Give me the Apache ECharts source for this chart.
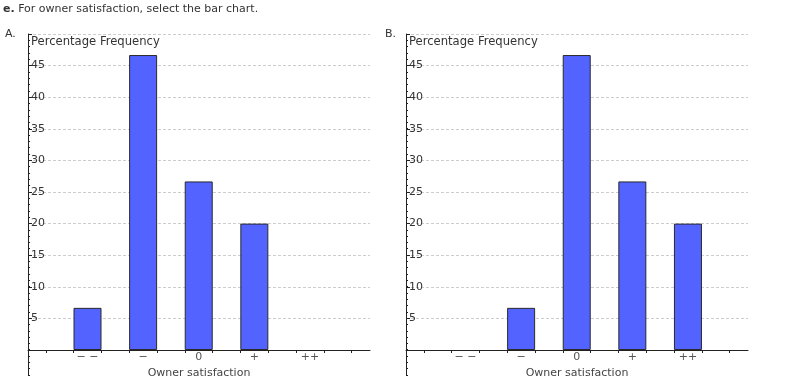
<!DOCTYPE html>
<html><head><meta charset="utf-8">
<script src="https://cdn.jsdelivr.net/npm/echarts@6/dist/echarts.min.js"></script>
<style>html,body{margin:0;padding:0;background:#fff}#c{width:809px;height:389px}</style>
</head><body><div id="c"></div>
<script>
const categories = ['− −', '−', '0', '+', '++'];
const valuesA = [6.67, 46.67, 26.67, 20.0, 0];
const valuesB = [0, 6.67, 46.67, 26.67, 20.0];
const yTickLabels = [5, 10, 15, 20, 25, 30, 35, 40, 45];
const yAxisTitle = 'Percentage Frequency';
const xAxisTitle = 'Owner satisfaction';
const questionText = 'For owner satisfaction, select the bar chart.';

const FONT = 'DejaVu Sans';
const catPos = categories.map((c, i) => i + 1);
const xTicks = [];
for (let k = 0; k <= 2 * categories.length + 1; k++) xTicks.push(0.25 + 0.5 * k);

const grids = [], xAxes = [], yAxes = [], series = [];
function addChart(left, values) {
  const g = grids.length;
  grids.push({ left: left, top: 34, width: 342, height: 316 });
  grids.push({ left: left, top: 34, width: 342, height: 341 });
  xAxes.push({
    gridIndex: g, type: 'value', min: -0.07, max: 6.08,
    axisLine: { onZero: false, lineStyle: { color: '#222', width: 1 } },
    axisTick: { customValues: xTicks, length: 3, lineStyle: { color: '#222' } },
    axisLabel: {
      customValues: catPos, margin: 2, color: '#555', fontFamily: FONT, fontSize: 11,
      formatter: v => categories[Math.round(v) - 1] || ''
    },
    splitLine: { show: false },
    name: xAxisTitle, nameLocation: 'middle', nameGap: 14,
    nameTextStyle: { color: '#444', fontFamily: FONT, fontSize: 11 }
  });
  xAxes.push({ gridIndex: g + 1, type: 'value', min: -0.07, max: 6.08, show: false });
  yAxes.push({
    gridIndex: g, type: 'value', min: 0, max: 50, interval: 5,
    axisLine: { show: false, onZero: false },
    axisTick: { inside: true, length: 4, lineStyle: { color: '#222' } },
    axisLabel: {
      inside: true, margin: 3, color: '#333', fontFamily: FONT, fontSize: 11,
      formatter: v => yTickLabels.includes(v) ? String(v) : ''
    },
    splitLine: { show: true, lineStyle: { color: '#ccc', type: [3, 2], width: 1 } }
  });
  yAxes.push({
    gridIndex: g + 1, type: 'value', min: -4, max: 50, interval: 1,
    axisLine: { show: true, onZero: false, lineStyle: { color: '#222', width: 1 } },
    axisTick: { show: true, inside: true, length: 2, lineStyle: { color: '#222' } },
    axisLabel: { show: false },
    splitLine: { show: false }
  });
  series.push({
    type: 'bar', xAxisIndex: g, yAxisIndex: g, barWidth: 28,
    data: values.map((v, i) => [catPos[i], v === 0 ? null : v]),
    itemStyle: { color: '#5263ff', borderColor: '#2a2a2a', borderWidth: 1 },
    silent: true
  });
}
addChart(28, valuesA);
addChart(406, valuesB);

const ts = { fontFamily: FONT, fontSize: 11, fontWeight: 'normal', color: '#333' };
const ts2 = Object.assign({}, ts, { fontSize: 11.6 });
const chart = echarts.init(document.getElementById('c'), null, { renderer: 'canvas' });
chart.setOption({
  animation: false,
  backgroundColor: '#fff',
  title: [
    { text: '{b|e.} ' + questionText, left: 3, top: 4, padding: 0,
      textStyle: Object.assign({}, ts, { rich: { b: { fontFamily: FONT, fontSize: 11, fontWeight: 'bold', color: '#333' } } }) },
    { text: 'A.', left: 5, top: 29, padding: 0, textStyle: ts },
    { text: 'B.', left: 385, top: 29, padding: 0, textStyle: ts },
    { text: yAxisTitle, left: 31, top: 36, padding: 0, textStyle: ts2 },
    { text: yAxisTitle, left: 409, top: 36, padding: 0, textStyle: ts2 }
  ],
  grid: grids, xAxis: xAxes, yAxis: yAxes, series: series
});
</script></body></html>
